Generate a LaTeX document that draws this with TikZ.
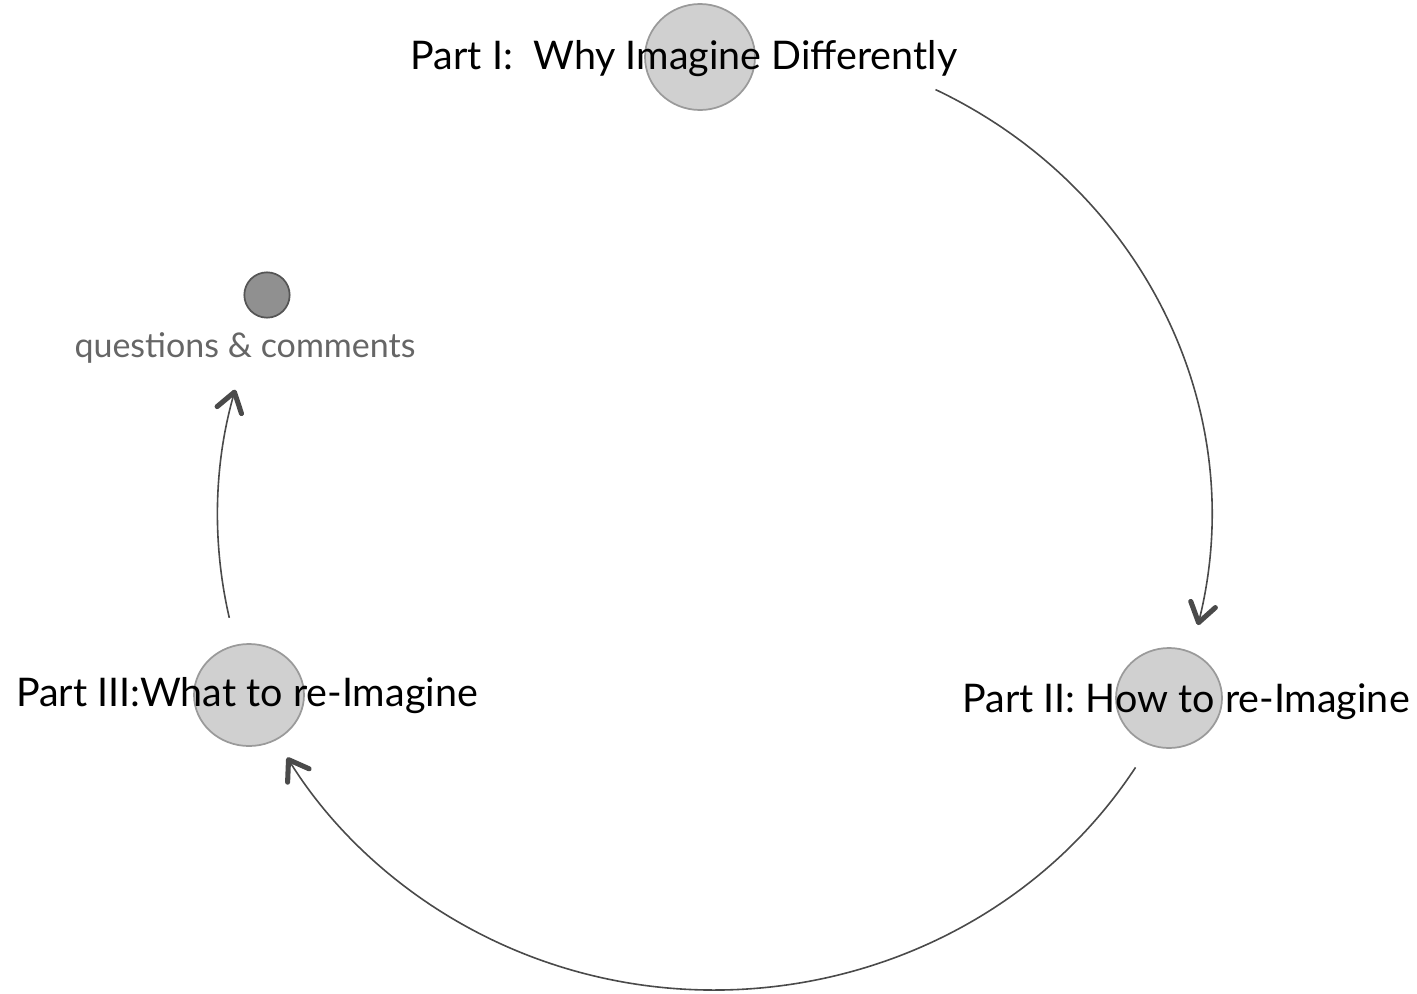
\documentclass[tikz,border=0pt]{standalone}
\usepackage{fontspec}
\setmainfont{Lato}
\usetikzlibrary{arrows.meta}
\definecolor{circfill}{HTML}{D0D0D0}
\definecolor{circline}{HTML}{9A9A9A}
\definecolor{darkfill}{HTML}{909090}
\definecolor{darkline}{HTML}{555555}
\definecolor{arcline}{HTML}{4A4A4A}
\definecolor{qtext}{HTML}{666666}
\tikzset{
  smallcircle/.style={draw=darkline, fill=darkfill, line width=1.3pt},
  parttext/.style={inner sep=0pt, font=\fontsize{29.6}{34}\selectfont, text=black},
  qlabel/.style={inner sep=0pt, font=\fontsize{25.5}{30}\selectfont, text=qtext},
  flow/.style={draw=arcline, line width=1.2pt,
    -{Straight Barb[length=14pt,width=19pt,line width=3.8pt,round]}},
}
\begin{document}
\begin{tikzpicture}[x=0.75pt,y=-0.75pt]
\useasboundingbox (0,0) rectangle (1417,993);
% circles
\fill[circfill,draw=circline,line width=1.3pt] (700,57) ellipse[x radius=55,y radius=53];
\fill[circfill,draw=circline,line width=1.3pt] (1169,698) ellipse[x radius=53,y radius=50];
\fill[circfill,draw=circline,line width=1.3pt] (249,695) ellipse[x radius=55,y radius=51];
\node[circle, smallcircle, minimum size=34pt, inner sep=0pt] (q) at (267,295) {};
% texts
\node[parttext] (p1) at (684,59) {Part I:\ \ Why Imagine Differently};
\node[parttext] (p2) at (1186,702) {Part II: How to re-Imagine};
\node[parttext] (p3) at (247,696) {Part III:What to re-Imagine};
\node[qlabel] (ql) at (245,348) {questions \& comments};
% arcs
\draw[flow] (714.5,515) ++(-63.6:497 and 475) arc[start angle=-63.6, end angle=13.4, x radius=497, y radius=475];
\draw[flow] (714.5,515) ++(32.1:497 and 475) arc[start angle=32.1, end angle=149.3, x radius=497, y radius=475];
\draw[flow] (714.5,515) ++(167.5:497 and 475) arc[start angle=167.5, end angle=195.3, x radius=497, y radius=475];
\end{tikzpicture}
\end{document}
